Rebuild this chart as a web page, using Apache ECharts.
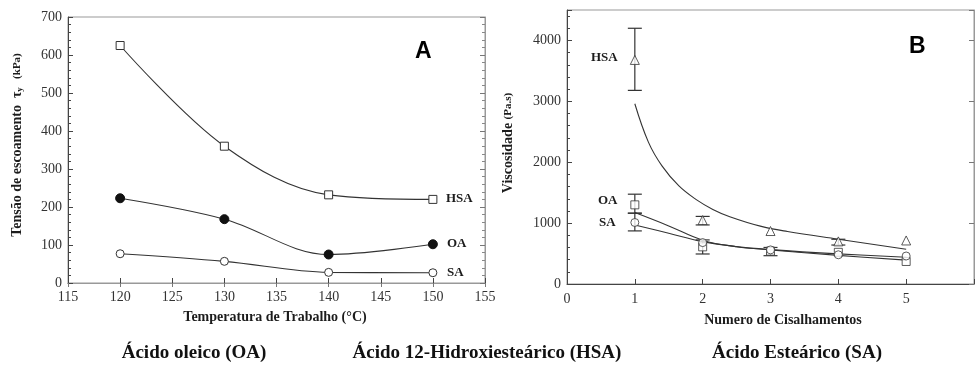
<!DOCTYPE html>
<html>
<head>
<meta charset="utf-8">
<script src="https://cdn.jsdelivr.net/npm/echarts@6/dist/echarts.min.js"></script>
<style>
html,body{margin:0;padding:0;background:#fff;}
#c{width:977px;height:365px;}
</style>
</head>
<body>
<div id="c"></div>
<script>
// ---- Panel A: yield stress vs working temperature ----
const tempC = [120, 130, 140, 150];
const yieldHSA = [625, 360, 232, 220];
const yieldOA = [223, 168, 75, 102];
const yieldSA = [77, 57, 28, 27];

// ---- Panel B: viscosity vs number of shearings ----
const shearN = [1, 2, 3, 4, 5];
const viscHSA = [3680, 1050, 870, 700, 715];
const viscOA = [1300, 610, 540, 520, 370];
const viscSA = [1010, 680, 560, 480, 460];

// fitted curves
const fitHSAx = [1, 1.2, 1.4, 1.65, 1.9, 2.15, 2.4, 2.85, 3.25, 4, 5];
const fitHSAy = [2960, 2330, 1940, 1610, 1390, 1225, 1105, 950, 862, 735, 570];
const fitOAx = [1, 1.5, 2, 2.5, 3, 4, 5];
const fitOAy = [1173, 954, 720, 612, 560, 470, 392];
const fitSAx = [1, 1.5, 2, 2.5, 3, 4, 5];
const fitSAy = [970, 833, 696, 614, 565, 495, 440];

// error bars [x, low, high]
const errHSA = [[1, 3180, 4200], [2, 970, 1110], [4, 640, 735]];
const errOA = [[1, 1163, 1475], [2, 493, 724], [3, 465, 600]];
const errSA = [[1, 872, 1163]];

const captions = ['Ácido oleico (OA)', 'Ácido 12-Hidroxiesteárico (HSA)', 'Ácido Esteárico (SA)'];

const SERIF = '"Liberation Serif","Times New Roman",serif';
const INK = '#1c1c1c';
const AX = '#444';

const zip = (xs, ys) => xs.map((x, i) => [x, ys[i]]);

function errRender(params, api) {
  const x = api.value(0), lo = api.value(1), hi = api.value(2);
  const a = api.coord([x, lo]);
  const b = api.coord([x, hi]);
  const w = 7;
  const st = { stroke: '#333', lineWidth: 1.2 };
  return {
    type: 'group',
    children: [
      { type: 'line', shape: { x1: a[0], y1: a[1], x2: b[0], y2: b[1] }, style: st },
      { type: 'line', shape: { x1: a[0] - w, y1: a[1], x2: a[0] + w, y2: a[1] }, style: st },
      { type: 'line', shape: { x1: b[0] - w, y1: b[1], x2: b[0] + w, y2: b[1] }, style: st }
    ]
  };
}

const labelStyle = { fontFamily: SERIF, fontSize: 14, color: '#333' };
const tickIn = { show: true, inside: true, length: 5, lineStyle: { color: AX } };
const minorIn = { show: true, splitNumber: 5, length: 3, lineStyle: { color: AX } };

const chart = echarts.init(document.getElementById('c'), null, { renderer: 'canvas' });

const option = {
  animation: false,
  backgroundColor: '#fff',
  grid: [
    { left: 68, top: 17, width: 417, height: 266, show: true, borderColor: '#999', borderWidth: 1 },
    { left: 567, top: 10, right: 1, height: 274, show: true, borderColor: '#999', borderWidth: 1 }
  ],
  xAxis: [
    { gridIndex: 0, type: 'value', min: 115, max: 155, interval: 5, position: 'bottom',
      axisLine: { show: true, lineStyle: { color: AX } }, axisTick: tickIn,
      axisLabel: Object.assign({ margin: 7 }, labelStyle), splitLine: { show: false } },
    { gridIndex: 0, type: 'value', min: 115, max: 155, interval: 5, position: 'top',
      axisLine: { show: true, lineStyle: { color: '#999' } }, axisTick: { show: true, inside: true, length: 4, lineStyle: { color: '#777' } },
      axisLabel: { show: false }, splitLine: { show: false } },
    { gridIndex: 1, type: 'value', min: 0, max: 6, interval: 1, position: 'bottom',
      axisLine: { show: true, lineStyle: { color: AX } }, axisTick: tickIn,
      axisLabel: Object.assign({ margin: 8, formatter: v => (v > 5 ? '' : String(v)) }, labelStyle),
      splitLine: { show: false } }
  ],
  yAxis: [
    { gridIndex: 0, type: 'value', min: 0, max: 700, interval: 100, position: 'left',
      axisLine: { show: true, lineStyle: { color: AX } }, axisTick: tickIn, minorTick: minorIn,
      axisLabel: Object.assign({ margin: 6 }, labelStyle), splitLine: { show: false } },
    { gridIndex: 0, type: 'value', min: 0, max: 700, interval: 100, position: 'right',
      axisLine: { show: true, lineStyle: { color: '#999' } }, axisTick: { show: true, inside: true, length: 5, lineStyle: { color: '#777' } },
      minorTick: { show: true, splitNumber: 5, length: 3, lineStyle: { color: '#888' } },
      axisLabel: { show: false }, splitLine: { show: false } },
    { gridIndex: 1, type: 'value', min: 0, max: 4500, interval: 1000, position: 'left',
      axisLine: { show: true, lineStyle: { color: AX } }, axisTick: tickIn, minorTick: minorIn,
      axisLabel: Object.assign({ margin: 6, formatter: v => (v % 1000 === 0 ? String(v) : '') }, labelStyle),
      splitLine: { show: false } },
    { gridIndex: 1, type: 'value', min: 0, max: 4500, interval: 1000, position: 'right',
      axisLine: { show: true, lineStyle: { color: '#999' } }, axisTick: { show: true, inside: true, length: 5, lineStyle: { color: '#777' } },
      axisLabel: { show: false }, splitLine: { show: false } }
  ],
  series: [
    // Panel A
    { type: 'line', xAxisIndex: 0, yAxisIndex: 0, data: zip(tempC, yieldHSA), smooth: 0.35,
      symbol: 'rect', symbolSize: 8, itemStyle: { color: '#fff', borderColor: '#333', borderWidth: 1 },
      lineStyle: { color: '#333', width: 1.1 } },
    { type: 'line', xAxisIndex: 0, yAxisIndex: 0, data: zip(tempC, yieldOA), smooth: 0.35,
      symbol: 'circle', symbolSize: 9, itemStyle: { color: '#111', borderColor: '#111', borderWidth: 1 },
      lineStyle: { color: '#333', width: 1.1 } },
    { type: 'line', xAxisIndex: 0, yAxisIndex: 0, data: zip(tempC, yieldSA), smooth: 0.35,
      symbol: 'circle', symbolSize: 8, itemStyle: { color: '#fff', borderColor: '#333', borderWidth: 1 },
      lineStyle: { color: '#333', width: 1.1 } },
    // Panel B fitted curves
    { type: 'line', xAxisIndex: 2, yAxisIndex: 2, data: zip(fitHSAx, fitHSAy), smooth: 0.4, showSymbol: false,
      lineStyle: { color: '#333', width: 1.1 } },
    { type: 'line', xAxisIndex: 2, yAxisIndex: 2, data: zip(fitOAx, fitOAy), smooth: 0.4, showSymbol: false,
      lineStyle: { color: '#333', width: 1.1 } },
    { type: 'line', xAxisIndex: 2, yAxisIndex: 2, data: zip(fitSAx, fitSAy), smooth: 0.4, showSymbol: false,
      lineStyle: { color: '#333', width: 1.1 } },
    // error bars
    { type: 'custom', xAxisIndex: 2, yAxisIndex: 2, renderItem: errRender, data: errHSA, encode: { x: 0, y: [1, 2] }, z: 3 },
    { type: 'custom', xAxisIndex: 2, yAxisIndex: 2, renderItem: errRender, data: errOA, encode: { x: 0, y: [1, 2] }, z: 3 },
    { type: 'custom', xAxisIndex: 2, yAxisIndex: 2, renderItem: errRender, data: errSA, encode: { x: 0, y: [1, 2] }, z: 3 },
    // markers
    { type: 'scatter', xAxisIndex: 2, yAxisIndex: 2, data: zip(shearN, viscHSA), symbol: 'triangle', symbolSize: 9,
      itemStyle: { color: '#fff', borderColor: '#333', borderWidth: 1 }, z: 4 },
    { type: 'scatter', xAxisIndex: 2, yAxisIndex: 2, data: zip(shearN, viscOA), symbol: 'rect', symbolSize: 8,
      itemStyle: { color: '#fff', borderColor: '#333', borderWidth: 1 }, z: 4 },
    { type: 'scatter', xAxisIndex: 2, yAxisIndex: 2, data: zip(shearN, viscSA), symbol: 'circle', symbolSize: 8,
      itemStyle: { color: '#fff', borderColor: '#333', borderWidth: 1 }, z: 4 }
  ],
  graphic: [
    // panel letters
    { type: 'text', left: 415, top: 40, style: { text: 'A', font: 'bold 23px "Liberation Sans", Arial, sans-serif', fill: '#000' } },
    { type: 'text', left: 909, top: 35, style: { text: 'B', font: 'bold 23px "Liberation Sans", Arial, sans-serif', fill: '#000' } },
    // series labels panel A
    { type: 'text', left: 446, top: 192, style: { text: 'HSA', font: 'bold 13px ' + SERIF, fill: INK } },
    { type: 'text', left: 447, top: 237, style: { text: 'OA', font: 'bold 13px ' + SERIF, fill: INK } },
    { type: 'text', left: 447, top: 266, style: { text: 'SA', font: 'bold 13px ' + SERIF, fill: INK } },
    // series labels panel B
    { type: 'text', left: 591, top: 51, style: { text: 'HSA', font: 'bold 13px ' + SERIF, fill: INK } },
    { type: 'text', left: 598, top: 194, style: { text: 'OA', font: 'bold 13px ' + SERIF, fill: INK } },
    { type: 'text', left: 599, top: 216, style: { text: 'SA', font: 'bold 13px ' + SERIF, fill: INK } },
    // axis titles
    { type: 'text', x: 275, y: 317, style: { text: 'Temperatura de Trabalho (°C)', font: 'bold 14px ' + SERIF, fill: INK, align: 'center', verticalAlign: 'middle' } },
    { type: 'text', x: 783, y: 320, style: { text: 'Numero de Cisalhamentos', font: 'bold 14px ' + SERIF, fill: INK, align: 'center', verticalAlign: 'middle' } },
    { type: 'text', x: 17, y: 145, rotation: Math.PI / 2,
      style: { text: '{m|Tensão de escoamento  τ}{s|y}{k|   (kPa)}', align: 'center', verticalAlign: 'middle', fill: INK,
        rich: { m: { font: 'bold 14px ' + SERIF, fill: INK }, s: { font: 'bold 9px ' + SERIF, fill: INK, verticalAlign: 'bottom', padding: [6, 0, 0, 0] }, k: { font: 'bold 11px ' + SERIF, fill: INK } } } },
    { type: 'text', x: 508, y: 143, rotation: Math.PI / 2,
      style: { text: '{m|Viscosidade }{k|(Pa.s)}', align: 'center', verticalAlign: 'middle', fill: INK,
        rich: { m: { font: 'bold 14px ' + SERIF, fill: INK }, k: { font: 'bold 11px ' + SERIF, fill: INK } } } },
    // captions
    { type: 'text', x: 194, y: 353, style: { text: captions[0], font: 'bold 19px ' + SERIF, fill: '#111', align: 'center', verticalAlign: 'middle' } },
    { type: 'text', x: 487, y: 353, style: { text: captions[1], font: 'bold 19px ' + SERIF, fill: '#111', align: 'center', verticalAlign: 'middle' } },
    { type: 'text', x: 797, y: 353, style: { text: captions[2], font: 'bold 19px ' + SERIF, fill: '#111', align: 'center', verticalAlign: 'middle' } }
  ]
};
chart.setOption(option);
</script>
</body>
</html>
